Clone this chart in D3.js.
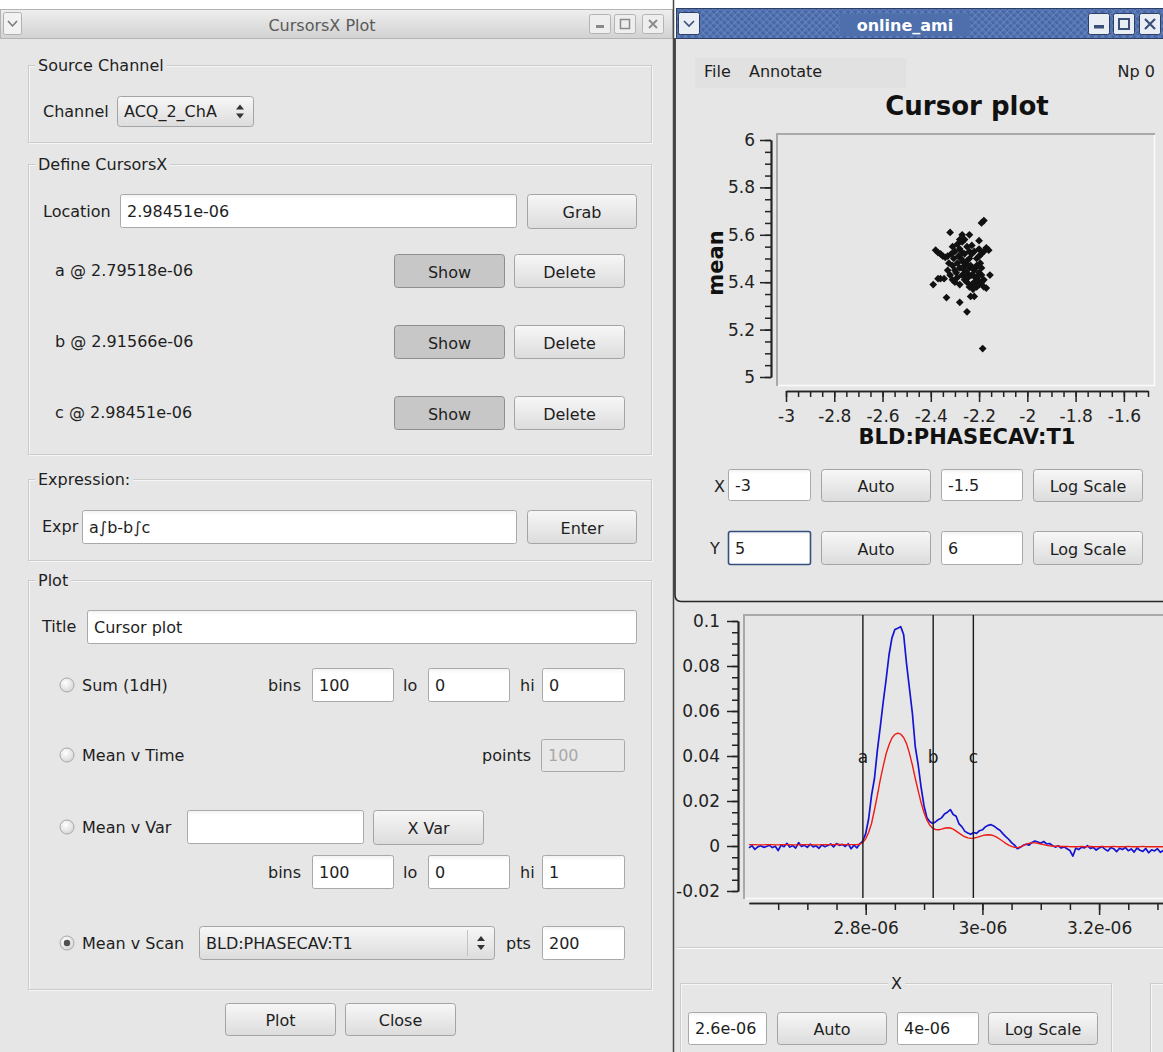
<!DOCTYPE html>
<html>
<head>
<meta charset="utf-8">
<script src="https://cdn.jsdelivr.net/npm/d3@7"></script>
<style>
  html, body { margin: 0; padding: 0; background: #ffffff; }
  svg { display: block; font-family: "DejaVu Sans", sans-serif; }
</style>
</head>
<body>
<svg id="screen" width="1163" height="1052"></svg>
<script>
// ---------------- data ----------------
// Mean of the cursor expression versus the scanned PV (one point per event)
const scanX = [
  -2.32, -2.27, -2.24, -2.19, -2.18, -2.20, -2.195, -2.39, -2.37, -2.36,
  -2.345, -2.335, -2.28, -2.25, -2.22, -2.235, -2.185, -2.155, -2.17, -2.16,
  -2.17, -2.38, -2.37, -2.36, -2.35, -2.34, -2.33,
  -2.31, -2.30, -2.29, -2.28, -2.27, -2.26, -2.25, -2.24, -2.23, -2.22, -2.21, -2.20, -2.19,
  -2.31, -2.30, -2.29, -2.28, -2.27, -2.26, -2.25, -2.24, -2.23, -2.22, -2.21, -2.20, -2.19, -2.18,
  -2.32, -2.31, -2.30, -2.29, -2.28, -2.27, -2.26, -2.25, -2.24, -2.23, -2.22, -2.21, -2.20, -2.19, -2.18,
  -2.285, -2.275, -2.265, -2.255, -2.245, -2.235, -2.225, -2.215, -2.205, -2.295, -2.305, -2.315,
  -2.27, -2.26, -2.25, -2.24, -2.23, -2.21, -2.20, -2.19, -2.18, -2.33, -2.325, -2.28, -2.26, -2.22
];
const scanMean = [
  5.61, 5.60, 5.60, 5.65, 5.66, 5.575, 5.48, 5.39, 5.415, 5.415,
  5.415, 5.335, 5.315, 5.275, 5.34, 5.34, 5.12, 5.43, 5.375, 5.535,
  5.545, 5.535, 5.525, 5.52, 5.51, 5.505, 5.51,
  5.55, 5.53, 5.56, 5.54, 5.57, 5.52, 5.55, 5.50, 5.52, 5.53, 5.50, 5.54, 5.52,
  5.47, 5.45, 5.48, 5.46, 5.49, 5.47, 5.44, 5.46, 5.43, 5.45, 5.42, 5.44, 5.43, 5.41,
  5.43, 5.41, 5.40, 5.42, 5.39, 5.43, 5.41, 5.40, 5.38, 5.39, 5.40, 5.38, 5.39, 5.40, 5.38,
  5.51, 5.50, 5.455, 5.48, 5.42, 5.47, 5.37, 5.46, 5.41, 5.44, 5.50, 5.52,
  5.525, 5.435, 5.49, 5.53, 5.555, 5.47, 5.51, 5.46, 5.53, 5.45, 5.48, 5.58, 5.58, 5.425
];
const scanXRange = [-3, -1.5];
const scanYRange = [5, 6];
const scanXTicks = [-3, -2.8, -2.6, -2.4, -2.2, -2, -1.8, -1.6];
const scanYTicks = [5, 5.2, 5.4, 5.6, 5.8, 6];

// Digitizer waveform ACQ_2_ChA: first sample time and sample spacing
const traceStart = 2.6e-6;
const traceStep = 5e-9;
// raw channel (blue)
const rawTrace = [
  -0.0008, 0.0002, -0.0015, -0.0004, 0.0001, -0.0006, -0.0002, 0.0003, -0.0007, -0.0001,
  -0.0020, 0.0004, -0.0003, 0.0012, -0.0005, 0.0002, -0.0009, 0.0015, -0.0002, 0.0003,
  -0.0006, 0.0008, -0.0004, 0.0001, -0.0010, 0.0005, -0.0003, 0.0002, 0.0009, -0.0004,
  0.0011, 0.0003, 0.0007, -0.0002, 0.0010, -0.0012, 0.0004, -0.0008, 0.0010, 0.0022,
  0.0055, 0.0120, 0.0225, 0.0300, 0.0425, 0.0530, 0.0640, 0.0740, 0.0850, 0.0925,
  0.0962, 0.0968, 0.0975, 0.0940, 0.0810, 0.0700, 0.0590, 0.0440, 0.0360, 0.0260,
  0.0178, 0.0125, 0.0108, 0.0100, 0.0108, 0.0118, 0.0125, 0.0142, 0.0150, 0.0162,
  0.0140, 0.0132, 0.0098, 0.0085, 0.0065, 0.0058, 0.0052, 0.0060, 0.0056, 0.0068,
  0.0072, 0.0085, 0.0092, 0.0095, 0.0088, 0.0078, 0.0070, 0.0055, 0.0042, 0.0030,
  0.0015, 0.0004, -0.0012, -0.0006, 0.0003, 0.0008, 0.0004, 0.0016, 0.0022, 0.0018,
  0.0012, 0.0020, 0.0009, 0.0011, 0.0002, -0.0005, 0.0001, -0.0009, -0.0004, -0.0012,
  -0.0020, -0.0045, -0.0010, -0.0016, -0.0005, -0.0008, 0.0002, -0.0011, -0.0006, -0.0018,
  -0.0009, -0.0003, -0.0014, -0.0022, -0.0007, -0.0012, -0.0025, -0.0010, -0.0016, -0.0006,
  -0.0021, -0.0013, -0.0027, -0.0009, -0.0019, -0.0024, -0.0011, -0.0030, -0.0017, -0.0022,
  -0.0012, -0.0028, -0.0020
];
// averaged channel (red)
const avgTrace = [
  0.0006, 0.0006, 0.0006, 0.0005, 0.0005, 0.0005, 0.0006, 0.0006, 0.0006, 0.0005,
  0.0005, 0.0006, 0.0006, 0.0006, 0.0006, 0.0005, 0.0005, 0.0005, 0.0006, 0.0006,
  0.0006, 0.0006, 0.0005, 0.0005, 0.0005, 0.0006, 0.0006, 0.0006, 0.0006, 0.0006,
  0.0007, 0.0007, 0.0006, 0.0006, 0.0006, 0.0006, 0.0006, 0.0006, 0.0008, 0.0015,
  0.0032, 0.0060, 0.0100, 0.0160, 0.0225, 0.0295, 0.0355, 0.0410, 0.0450, 0.0480,
  0.0496, 0.0502, 0.0497, 0.0482, 0.0455, 0.0412, 0.0360, 0.0300, 0.0245, 0.0192,
  0.0148, 0.0115, 0.0092, 0.0079, 0.0073, 0.0072, 0.0075, 0.0079, 0.0081, 0.0080,
  0.0075, 0.0066, 0.0057, 0.0048, 0.0041, 0.0036, 0.0034, 0.0035, 0.0038, 0.0042,
  0.0046, 0.0049, 0.0050, 0.0049, 0.0045, 0.0038, 0.0030, 0.0021, 0.0012, 0.0004,
  -0.0002, -0.0006, -0.0007, -0.0004, 0.0002, 0.0008, 0.0012, 0.0014, 0.0014, 0.0012,
  0.0009, 0.0006, 0.0003, 0.0001, 0.0000, -0.0001, -0.0001, -0.0002, -0.0002, -0.0002,
  -0.0003, -0.0003, -0.0003, -0.0003, -0.0002, -0.0003, -0.0003, -0.0002, -0.0003, -0.0003,
  -0.0003, -0.0002, -0.0003, -0.0003, -0.0003, -0.0002, -0.0003, -0.0003, -0.0003, -0.0003,
  -0.0002, -0.0003, -0.0003, -0.0003, -0.0003, -0.0002, -0.0003, -0.0003, -0.0003, -0.0003,
  -0.0003, -0.0003, -0.0003
];
const traceXRange = [2.6e-6, 4e-6];
const traceYRange = [-0.02, 0.1];
// labelled time ticks inside the visible part of the plot
const traceXTicks = [2.8e-6, 3.0e-6, 3.2e-6];
const traceYTicks = [-0.02, 0, 0.02, 0.04, 0.06, 0.08, 0.1];

// Cursor definitions
const cursorNames = ["a", "b", "c"];
const cursorPositions = [2.79518e-6, 2.91566e-6, 2.98451e-6];

// ---------------- helpers ----------------
const fmtSci = v => {
  const [m, e] = v.toExponential(5).split("e");
  const n = +e;
  return String(+m) + "e" + (n < 0 ? "-" : "+") + String(Math.abs(n)).padStart(2, "0");
};
const fmtPlain = v => String(+v.toFixed(4));
const fmtMicro = v => String(+(v * 1e6).toFixed(3)) + "e-06";

const BG = "#e6e6e6";
const svg = d3.select("#screen");
const defs = svg.append("defs");

function vGrad(id, stops) {
  const g = defs.append("linearGradient").attr("id", id)
    .attr("x1", 0).attr("y1", 0).attr("x2", 0).attr("y2", 1);
  stops.forEach(([o, c]) => g.append("stop").attr("offset", o).attr("stop-color", c));
}
vGrad("btnGrad", [[0, "#f7f7f7"], [1, "#dcdcdc"]]);
vGrad("titleGrad", [[0, "#eeeeee"], [1, "#d2d2d2"]]);
vGrad("blueTitle", [[0, "#5d7dbb"], [1, "#3f5f9f"]]);
vGrad("fieldGrad", [[0, "#f2f2f2"], [0.15, "#ffffff"], [1, "#ffffff"]]);
const rg = defs.append("radialGradient").attr("id", "radioGrad").attr("cx", 0.4).attr("cy", 0.35).attr("r", 0.7);
rg.append("stop").attr("offset", 0).attr("stop-color", "#ffffff");
rg.append("stop").attr("offset", 1).attr("stop-color", "#d4d4d4");
const hatch = defs.append("pattern").attr("id", "hatch").attr("patternUnits", "userSpaceOnUse")
  .attr("width", 5).attr("height", 5).attr("patternTransform", "rotate(45)");
hatch.append("rect").attr("width", 5).attr("height", 5).attr("fill", "url(#blueTitle)");
hatch.append("line").attr("x1", 0).attr("y1", 0).attr("x2", 0).attr("y2", 5)
  .attr("stroke", "#7893c8").attr("stroke-width", 1.2);

function txt(g, x, y, s, o = {}) {
  return g.append("text").attr("x", x).attr("y", y).attr("dy", "0.35em")
    .attr("font-size", o.size || 16).attr("fill", o.fill || "#1e1e1e")
    .attr("text-anchor", o.anchor || "start")
    .attr("font-weight", o.weight || "normal").text(s);
}
function button(g, x, y, w, h, label, pressed) {
  g.append("rect").attr("x", x + 0.5).attr("y", y + 0.5).attr("width", w - 1).attr("height", h - 1)
    .attr("rx", 3).attr("fill", pressed ? "#c7c7c7" : "url(#btnGrad)")
    .attr("stroke", pressed ? "#8e8e8e" : "#a4a4a4");
  txt(g, x + w / 2, y + h / 2 + 1, label, { anchor: "middle" });
}
function field(g, x, y, w, h, value, o = {}) {
  g.append("rect").attr("x", x + 0.5).attr("y", y + 0.5).attr("width", w - 1).attr("height", h - 1)
    .attr("rx", 2).attr("fill", o.disabled ? "#e8e8e8" : "url(#fieldGrad)")
    .attr("stroke", o.focus ? "#35507f" : "#a9a9a9").attr("stroke-width", o.focus ? 1.6 : 1);
  if (value !== "") txt(g, x + 7, y + h / 2, value, { fill: o.disabled ? "#a8a8a8" : "#1e1e1e" });
}
function combo(g, x, y, w, h, value, separator) {
  button(g, x, y, w, h, "", false);
  txt(g, x + 7, y + h / 2, value);
  const ax = x + w - 14, cy = y + h / 2;
  g.append("path").attr("d", `M${ax - 4},${cy - 2}L${ax},${cy - 7}L${ax + 4},${cy - 2}Z`).attr("fill", "#333");
  g.append("path").attr("d", `M${ax - 4},${cy + 2}L${ax},${cy + 7}L${ax + 4},${cy + 2}Z`).attr("fill", "#333");
  if (separator) g.append("line").attr("x1", ax - 13.5).attr("x2", ax - 13.5).attr("y1", y + 4).attr("y2", y + h - 4)
    .attr("stroke", "#c4c4c4");
}
function radio(g, cx, cy, checked) {
  g.append("circle").attr("cx", cx).attr("cy", cy).attr("r", 7).attr("fill", "url(#radioGrad)")
    .attr("stroke", "#a8a8a8");
  if (checked) g.append("circle").attr("cx", cx).attr("cy", cy).attr("r", 3.2).attr("fill", "#505050");
}
function group(g, x, y, w, h, label, centered) {
  g.append("rect").attr("x", x + 1.5).attr("y", y + 1.5).attr("width", w - 2).attr("height", h - 2)
    .attr("fill", "none").attr("stroke", "#f6f6f6");
  g.append("rect").attr("x", x + 0.5).attr("y", y + 0.5).attr("width", w - 2).attr("height", h - 2)
    .attr("fill", "none").attr("stroke", "#cbcbcb");
  if (label) {
    const t = txt(g, centered ? x + w / 2 : x + 10, y, label, { anchor: centered ? "middle" : "start" });
    const bb = t.node().getBBox();
    g.insert("rect", () => t.node()).attr("x", bb.x - 3).attr("y", y - 3)
      .attr("width", bb.width + 6).attr("height", 6).attr("fill", BG);
  }
}

// ---------------- desktop + windows ----------------
svg.append("rect").attr("width", 1163).attr("height", 1052).attr("fill", "#ffffff");

// Left window: CursorsX Plot
const left = svg.append("g");
left.append("rect").attr("x", 0).attr("y", 38).attr("width", 673).attr("height", 1014).attr("fill", BG);
left.append("rect").attr("x", 0.5).attr("y", 9.5).attr("width", 672).attr("height", 29)
  .attr("fill", "url(#titleGrad)").attr("stroke", "#b4b4b4");
left.append("rect").attr("x", 3.5).attr("y", 12.5).attr("width", 18).attr("height", 22).attr("rx", 2)
  .attr("fill", "#f2f2f2").attr("stroke", "#b0b0b0");
left.append("path").attr("d", "M8,21L12.5,26L17,21").attr("fill", "none").attr("stroke", "#777").attr("stroke-width", 1.5);
txt(left, 322, 25, "CursorsX Plot", { anchor: "middle", fill: "#5a5a5a" });
[[589, "min"], [614, "max"], [642, "close"]].forEach(([bx, kind]) => {
  left.append("rect").attr("x", bx + 0.5).attr("y", 14.5).attr("width", 21).attr("height", 19).attr("rx", 2)
    .attr("fill", "#eeeeee").attr("stroke", "#b4b4b4");
  if (kind === "min") left.append("rect").attr("x", bx + 7).attr("y", 25).attr("width", 8).attr("height", 3).attr("fill", "#8a8a8a");
  if (kind === "max") left.append("rect").attr("x", bx + 6.5).attr("y", 19.5).attr("width", 9).attr("height", 9)
    .attr("fill", "none").attr("stroke", "#8a8a8a").attr("stroke-width", 1.5);
  if (kind === "close") left.append("path").attr("d", `M${bx + 7},20L${bx + 15},28M${bx + 15},20L${bx + 7},28`)
    .attr("stroke", "#8a8a8a").attr("stroke-width", 1.8);
});

// Source Channel
group(left, 28, 65, 625, 79, "Source Channel");
txt(left, 43, 111, "Channel");
combo(left, 117, 96, 137, 31, "ACQ_2_ChA", false);

// Define CursorsX
group(left, 28, 164, 625, 292, "Define CursorsX");
txt(left, 43, 211, "Location");
field(left, 120, 194, 397, 34, fmtSci(cursorPositions[cursorPositions.length - 1]));
button(left, 527, 194, 110, 35, "Grab");
cursorNames.forEach((n, i) => {
  const cy = 270 + i * 71;
  txt(left, 55, cy, `${n} @ ${fmtSci(cursorPositions[i])}`);
  button(left, 394, cy - 16, 111, 34, "Show", true);
  button(left, 514, cy - 16, 111, 34, "Delete", false);
});

// Expression
group(left, 28, 479, 625, 83, "Expression:");
txt(left, 42, 526, "Expr");
field(left, 82, 510, 435, 34, "a\u222Bb-b\u222Bc");
button(left, 527, 510, 110, 34, "Enter");

// Plot
group(left, 28, 580, 625, 411, "Plot");
txt(left, 42, 626, "Title");
field(left, 87, 610, 550, 34, "Cursor plot");

radio(left, 67, 685, false); txt(left, 82, 685, "Sum (1dH)");
txt(left, 268, 685, "bins"); field(left, 312, 668, 82, 34, "100");
txt(left, 403, 685, "lo"); field(left, 428, 668, 82, 34, "0");
txt(left, 520, 685, "hi"); field(left, 542, 668, 83, 34, "0");

radio(left, 67, 755, false); txt(left, 82, 755, "Mean v Time");
txt(left, 482, 755, "points"); field(left, 541, 739, 84, 33, "100", { disabled: true });

radio(left, 67, 827, false); txt(left, 82, 827, "Mean v Var");
field(left, 187, 810, 177, 34, "");
button(left, 373, 810, 111, 35, "X Var");
txt(left, 268, 872, "bins"); field(left, 312, 855, 82, 34, "100");
txt(left, 403, 872, "lo"); field(left, 428, 855, 82, 34, "0");
txt(left, 520, 872, "hi"); field(left, 542, 855, 83, 34, "1");

radio(left, 67, 943, true); txt(left, 82, 943, "Mean v Scan");
combo(left, 199, 926, 296, 34, "BLD:PHASECAV:T1", true);
txt(left, 506, 943, "pts"); field(left, 542, 926, 83, 34, "200");

button(left, 225, 1003, 111, 33, "Plot");
button(left, 345, 1003, 111, 33, "Close");

// Right side background (both windows)
const right = svg.append("g");
right.append("rect").attr("x", 674).attr("y", 38).attr("width", 489).attr("height", 1014).attr("fill", BG);
right.append("line").attr("x1", 673.5).attr("x2", 673.5).attr("y1", 0).attr("y2", 1052)
  .attr("stroke", "#474747").attr("stroke-width", 1.5);

// Upper-right window: online_ami title bar
right.append("rect").attr("x", 676).attr("y", 9).attr("width", 487).attr("height", 29).attr("fill", "url(#hatch)");
right.append("rect").attr("x", 676.5).attr("y", 8.5).attr("width", 490).attr("height", 30)
  .attr("fill", "none").attr("stroke", "#2e3f66");
right.append("rect").attr("x", 678.5).attr("y", 12.5).attr("width", 21).attr("height", 22).attr("rx", 2)
  .attr("fill", "#e9edf4").attr("stroke", "#2e3f66");
right.append("path").attr("d", "M684,21L689,26L694,21").attr("fill", "none").attr("stroke", "#3a4f7a").attr("stroke-width", 1.6);
right.append("rect").attr("x", 840).attr("y", 14).attr("width", 130).attr("height", 22).attr("fill", "#4e6eac");
txt(right, 905, 25, "online_ami", { anchor: "middle", fill: "#ffffff", weight: "bold" });
[[1088, "min"], [1113, "max"], [1139, "close"]].forEach(([bx, kind]) => {
  right.append("rect").attr("x", bx + 0.5).attr("y", 13.5).attr("width", 21).attr("height", 21).attr("rx", 2)
    .attr("fill", "#e9edf4").attr("stroke", "#2e3f66");
  if (kind === "min") right.append("rect").attr("x", bx + 6).attr("y", 25).attr("width", 10).attr("height", 3.5).attr("fill", "#3a4f7a");
  if (kind === "max") right.append("rect").attr("x", bx + 6).attr("y", 19).attr("width", 10).attr("height", 10)
    .attr("fill", "none").attr("stroke", "#3a4f7a").attr("stroke-width", 2);
  if (kind === "close") right.append("path").attr("d", `M${bx + 6},19L${bx + 16},29M${bx + 16},19L${bx + 6},29`)
    .attr("stroke", "#3a4f7a").attr("stroke-width", 2.2);
});

// menu bar
right.append("rect").attr("x", 695).attr("y", 58).attr("width", 211).attr("height", 30).attr("fill", "#e1e1e1");
txt(right, 704, 71, "File");
txt(right, 749, 71, "Annotate");
txt(right, 1155, 71, "Np 0", { anchor: "end" });
txt(right, 967, 106, "Cursor plot", { anchor: "middle", weight: "bold", size: 26, fill: "#111" });

// ---------------- scatter: mean vs BLD:PHASECAV:T1 ----------------
const sx = d3.scaleLinear().domain(scanXRange).range([786, 1148]);
const sy = d3.scaleLinear().domain(scanYRange).range([377, 140]);

function frame(g, x0, y0, x1, y1) {
  g.append("rect").attr("x", x0).attr("y", y0).attr("width", x1 - x0).attr("height", y1 - y0).attr("fill", BG);
  g.append("path").attr("d", `M${x0 + 1},${y1}V${y0 + 1}H${x1}`).attr("fill", "none")
    .attr("stroke", "#a9a9a9").attr("stroke-width", 2);
  g.append("path").attr("d", `M${x0 + 2},${y1 - 0.5}H${x1 - 0.5}V${y0 + 2}`).attr("fill", "none")
    .attr("stroke", "#fbfbfb").attr("stroke-width", 1.5);
}
frame(right, 776, 133, 1155, 386);

function styleAxis(g) {
  g.selectAll("path.domain").attr("stroke", "#222").attr("stroke-width", 1.7);
  g.selectAll(".tick line").attr("stroke", "#222").attr("stroke-width", 1.5);
  g.selectAll(".tick text").attr("font-size", 17).attr("fill", "#222")
    .attr("font-family", "\"DejaVu Sans\", sans-serif");
}
const minorRange = (lo, hi, step) => d3.range(Math.round(lo / step), Math.round(hi / step) + 1).map(i => i * step);

const sxMinor = right.append("g").attr("transform", "translate(0,391)")
  .call(d3.axisBottom(sx).tickValues(minorRange(-3, -1.5, 0.05)).tickSize(6).tickSizeOuter(0).tickFormat(""));
styleAxis(sxMinor);
const sxAxis = right.append("g").attr("transform", "translate(0,391)")
  .call(d3.axisBottom(sx).tickValues(scanXTicks).tickSize(11).tickSizeOuter(0).tickPadding(8).tickFormat(fmtPlain));
styleAxis(sxAxis);

const syMinor = right.append("g").attr("transform", "translate(771,0)")
  .call(d3.axisLeft(sy).tickValues(minorRange(5, 6, 0.05)).tickSize(6).tickSizeOuter(0).tickFormat(""));
styleAxis(syMinor);
const syAxis = right.append("g").attr("transform", "translate(771,0)")
  .call(d3.axisLeft(sy).tickValues(scanYTicks).tickSize(11).tickSizeOuter(0).tickPadding(5).tickFormat(fmtPlain));
styleAxis(syAxis);

txt(right, 967, 437, "BLD:PHASECAV:T1", { anchor: "middle", weight: "bold", size: 21, fill: "#111" });
right.append("text").attr("transform", "translate(716,263) rotate(-90)").attr("dy", "0.35em")
  .attr("text-anchor", "middle").attr("font-size", 21).attr("font-weight", "bold").attr("fill", "#111").text("mean");

const diamond = d3.symbol().type(d3.symbolSquare).size(30)();
right.append("g").selectAll("path").data(scanX.map((x, i) => [x, scanMean[i]])).join("path")
  .attr("d", diamond)
  .attr("transform", d => `translate(${sx(d[0])},${sy(d[1])}) rotate(45)`)
  .attr("fill", "#111");

// X / Y range controls of the scatter
txt(right, 714, 486, "X");
field(right, 728, 469, 83, 32, fmtPlain(scanXRange[0]));
button(right, 821, 469, 110, 33, "Auto");
field(right, 941, 469, 82, 32, fmtPlain(scanXRange[1]));
button(right, 1033, 469, 110, 33, "Log Scale");
txt(right, 710, 548, "Y");
field(right, 728, 531, 83, 34, fmtPlain(scanYRange[0]), { focus: true });
button(right, 821, 531, 110, 34, "Auto");
field(right, 941, 531, 82, 34, fmtPlain(scanYRange[1]));
button(right, 1033, 531, 110, 34, "Log Scale");

// window edge of the upper-right window
right.append("path").attr("d", "M675,38V595Q675,601.5,681,601.5H1163").attr("fill", "none")
  .attr("stroke", "#262626").attr("stroke-width", 1.6);

// ---------------- waveform with cursors ----------------
const wave = svg.append("g");
const tx = d3.scaleLinear().domain(traceXRange).range([749, 749 + 7 * 116.7]);
const ty = d3.scaleLinear().domain(traceYRange).range([891, 621]);

frame(wave, 743, 614, 1175, 899);

const clip = defs.append("clipPath").attr("id", "waveClip");
clip.append("rect").attr("x", 744).attr("y", 615).attr("width", 430).attr("height", 283);

const sampleTime = i => traceStart + i * traceStep;
const line = d3.line().x((d, i) => tx(sampleTime(i))).y(d => ty(d));
const plot = wave.append("g").attr("clip-path", "url(#waveClip)");
plot.append("path").datum(rawTrace).attr("d", line).attr("fill", "none")
  .attr("stroke", "#1414d2").attr("stroke-width", 1.7).attr("stroke-linejoin", "round");
plot.append("path").datum(avgTrace).attr("d", line).attr("fill", "none")
  .attr("stroke", "#ee1c16").attr("stroke-width", 1.4).attr("stroke-linejoin", "round");

// cursor markers
const cur = plot.append("g").selectAll("g").data(cursorNames.map((n, i) => [n, cursorPositions[i]])).join("g");
cur.append("line").attr("x1", d => tx(d[1])).attr("x2", d => tx(d[1])).attr("y1", 614).attr("y2", 898)
  .attr("stroke", "#1a1a1a").attr("stroke-width", 1.4);
cur.append("text").attr("x", d => tx(d[1])).attr("y", 757).attr("dy", "0.35em").attr("text-anchor", "middle")
  .attr("font-size", 17).attr("fill", "#1a1a1a").text(d => d[0]);

const txMinor = wave.append("g").attr("transform", "translate(0,903)")
  .call(d3.axisBottom(tx).tickValues(minorRange(2.65e-6, 3.3e-6, 5e-8)).tickSize(7).tickSizeOuter(0).tickFormat(""));
styleAxis(txMinor);
const txAxis = wave.append("g").attr("transform", "translate(0,903)")
  .call(d3.axisBottom(tx).tickValues(traceXTicks).tickSize(12).tickSizeOuter(0).tickPadding(7).tickFormat(fmtMicro));
styleAxis(txAxis);

const tyMinor = wave.append("g").attr("transform", "translate(738,0)")
  .call(d3.axisLeft(ty).tickValues(minorRange(-0.02, 0.1, 0.005)).tickSize(6).tickSizeOuter(0).tickFormat(""));
styleAxis(tyMinor);
const tyAxis = wave.append("g").attr("transform", "translate(738,0)")
  .call(d3.axisLeft(ty).tickValues(traceYTicks).tickSize(11).tickSizeOuter(0).tickPadding(7).tickFormat(fmtPlain));
styleAxis(tyAxis);

// separator and X range controls of the waveform
wave.append("line").attr("x1", 676).attr("x2", 1163).attr("y1", 947.5).attr("y2", 947.5).attr("stroke", "#cfcfcf");
wave.append("line").attr("x1", 676).attr("x2", 1163).attr("y1", 948.5).attr("y2", 948.5).attr("stroke", "#fafafa");
group(wave, 680, 983, 433, 90, "X", true);
group(wave, 1150, 983, 60, 90, "", false);
field(wave, 688, 1012, 79, 33, fmtMicro(traceXRange[0]));
button(wave, 777, 1012, 110, 33, "Auto");
field(wave, 897, 1012, 82, 33, fmtMicro(traceXRange[1]));
button(wave, 988, 1012, 110, 33, "Log Scale");
</script>
</body>
</html>
